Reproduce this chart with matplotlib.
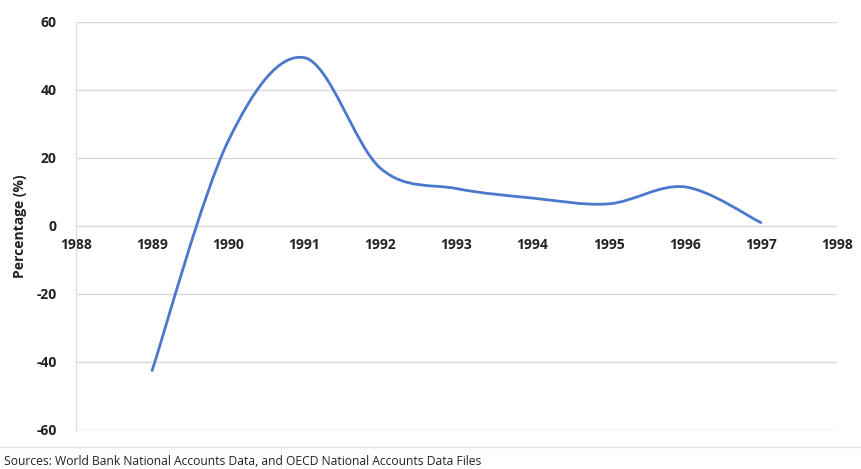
import numpy as np
import matplotlib.pyplot as plt
from matplotlib.path import Path
from matplotlib.patches import PathPatch
from matplotlib.lines import Line2D

years = [1989, 1990, 1991, 1992, 1993, 1994, 1995, 1996, 1997]
growth = [-42.5, 25, 49.5, 17, 11, 8.2, 6.5, 11.5, 1]
source = "Sources: World Bank National Accounts Data, and OECD National Accounts Data Files"

plt.rcParams['font.family'] = ['Open Sans', 'DejaVu Sans']
plt.rcParams['axes.unicode_minus'] = False

# excel-style smoothed line (catmull-rom as cubic bezier)
def smooth_path(x, y):
    pts = np.column_stack([x, y]).astype(float)
    n = len(pts)
    verts = [pts[0]]
    codes = [Path.MOVETO]
    for i in range(n - 1):
        p0 = pts[i - 1] if i > 0 else pts[i]
        p1 = pts[i]
        p2 = pts[i + 1]
        p3 = pts[i + 2] if i + 2 < n else pts[i + 1]
        c1 = p1 + (p2 - p0) / 6
        c2 = p2 - (p3 - p1) / 6
        verts += [c1, c2, p2]
        codes += [Path.CURVE4] * 3
    return Path(verts, codes)

fig = plt.figure(figsize=(8.61, 4.69), dpi=100)
ax = fig.add_axes([0.0883, 0.0832, 0.8837, 0.87])

ax.add_patch(PathPatch(smooth_path(years, growth), fill=False,
                       edgecolor='#4a78cc', lw=2, capstyle='round', zorder=3))

ax.set_xlim(1988, 1998)
ax.set_ylim(-60, 60)
ax.grid(axis='y', color='#d9d9d9', lw=1)
ax.set_axisbelow(True)

for s in ['top', 'right']:
    ax.spines[s].set_visible(False)
ax.spines['bottom'].set_position(('data', 0))
ax.spines['bottom'].set_visible(False)
ax.spines['left'].set_color('#d9d9d9')

yt = list(range(-60, 61, 20))
xt = list(range(1988, 1999))
ax.set_yticks(yt)
ax.set_yticklabels([str(v) for v in yt], fontweight='bold', fontsize=10, color='#222222')
ax.set_xticks(xt)
ax.set_xticklabels([str(v) for v in xt], fontweight='bold', fontsize=10, color='#222222')
ax.tick_params(length=0)
ax.tick_params(axis='y', pad=14)
ax.tick_params(axis='x', pad=9)

ax.set_ylabel('Percentage (%)', fontweight='bold', fontsize=10, color='#222222')
ax.yaxis.set_label_coords(-0.064, 0.5)

fig.add_artist(Line2D([0, 1], [1 - 447 / 469] * 2, color='#e6e6e6', lw=1))
fig.text(0.005, 1 - 461 / 469, source, fontsize=8.7, va='center', color='#222222')

fig.savefig('out.png', dpi=100)
